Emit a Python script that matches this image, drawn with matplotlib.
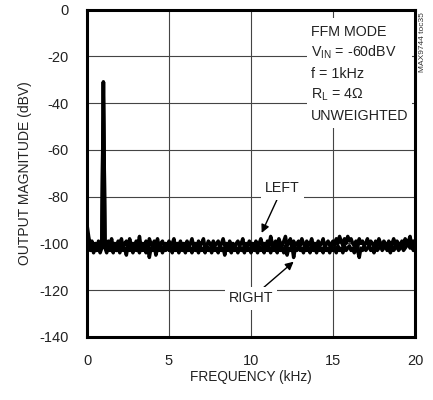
import matplotlib
matplotlib.use("Agg")
import matplotlib.pyplot as plt
import numpy as np

plt.rcParams['font.family'] = ['Liberation Sans', 'DejaVu Sans']
plt.rcParams['mathtext.fontset'] = 'custom'
plt.rcParams['mathtext.rm'] = 'Liberation Sans'

# frequency grid (kHz), 0.1 kHz steps
freq = np.arange(0, 20.001, 0.1)

# output magnitude (dBV), one row per kHz
left_db = [-92, -97, -101, -99, -102, -100, -103, -99, -101, -100,
           -31, -100, -102, -99, -101, -98, -102, -100, -103, -99,
           -101, -98, -102, -100, -99, -102, -98, -101, -100, -102,
           -99, -101, -97, -102, -100, -101, -99, -103, -98, -100,
           -102, -99, -101, -98, -102, -100, -99, -101, -100, -102,
           -99, -101, -100, -98, -102, -100, -101, -99, -102, -100,
           -101, -99, -102, -100, -98, -101, -100, -102, -99, -101,
           -100, -98, -102, -101, -99, -100, -102, -99, -101, -100,
           -99, -102, -100, -98, -101, -100, -102, -99, -101, -100,
           -102, -100, -99, -101, -100, -98, -102, -100, -101, -99,
           -101, -100, -102, -99, -101, -100, -98, -101, -100, -102,
           -99, -101, -97, -100, -102, -99, -101, -98, -100, -101,
           -99, -97, -101, -100, -98, -102, -99, -101, -100, -99,
           -101, -98, -100, -102, -99, -101, -100, -98, -101, -100,
           -102, -99, -101, -100, -98, -102, -100, -99, -101, -100,
           -99, -101, -98, -100, -97, -99, -101, -98, -100, -97,
           -99, -98, -100, -101, -99, -102, -98, -100, -99, -101,
           -100, -98, -101, -99, -100, -102, -99, -101, -98, -100,
           -101, -99, -100, -102, -99, -101, -100, -98, -101, -99,
           -100, -102, -99, -101, -98, -100, -99, -97, -101, -99,
           -99]
right_db = [-95, -99, -103, -101, -104, -102, -103, -101, -104, -102,
            -31, -102, -104, -101, -103, -102, -104, -101, -103, -102,
            -104, -101, -103, -102, -105, -101, -103, -102, -104, -101,
            -103, -102, -104, -101, -103, -102, -104, -101, -106, -102,
            -103, -101, -105, -102, -103, -101, -104, -102, -103, -101,
            -103, -102, -104, -101, -103, -102, -104, -101, -103, -102,
            -104, -101, -103, -102, -104, -101, -103, -102, -104, -101,
            -103, -102, -104, -101, -103, -102, -104, -101, -103, -102,
            -104, -101, -103, -102, -105, -101, -103, -102, -104, -101,
            -103, -102, -104, -101, -103, -102, -104, -101, -103, -102,
            -104, -101, -103, -102, -104, -101, -103, -102, -104, -101,
            -103, -102, -104, -101, -103, -102, -104, -101, -103, -102,
            -104, -101, -105, -102, -103, -101, -106, -102, -103, -101,
            -103, -102, -104, -101, -103, -102, -104, -101, -103, -102,
            -104, -101, -103, -102, -104, -101, -103, -102, -104, -101,
            -103, -102, -104, -101, -103, -102, -104, -101, -103, -102,
            -101, -103, -102, -104, -101, -103, -106, -102, -103, -101,
            -103, -102, -101, -103, -102, -104, -101, -103, -102, -101,
            -103, -102, -101, -103, -102, -104, -101, -103, -102, -101,
            -103, -102, -101, -103, -102, -101, -100, -102, -101, -103,
            -101]

x_ticks = [0, 5, 10, 15, 20]
y_ticks = [0, -20, -40, -60, -80, -100, -120, -140]

info_lines = ["FFM MODE", r"V$_{\rm IN}$ = -60dBV", "f = 1kHz",
              r"R$_{\rm L}$ = 4Ω", "UNWEIGHTED"]

fig = plt.figure(figsize=(4.33, 4.0), dpi=100)
ax = fig.add_axes([87 / 433, 1 - 337 / 400, 328 / 433, 327.5 / 400])

ax.plot(freq, left_db, color='black', lw=2.5, zorder=4)
ax.plot(freq, right_db, color='black', lw=2.5, zorder=4)

ax.set_xlim(0, 20)
ax.set_ylim(-140, 0)
ax.set_xticks(x_ticks)
ax.set_yticks(y_ticks)
ax.set_yticklabels([str(v) for v in y_ticks])
ax.tick_params(length=0, labelsize=10.5, colors='#222222')
ax.tick_params(axis='y', pad=13)
ax.tick_params(axis='x', pad=12)
ax.grid(True, color='#444444', lw=0.8)
ax.set_axisbelow(True)
for s in ax.spines.values():
    s.set_linewidth(2.2)

ax.set_xlabel("FREQUENCY (kHz)", fontsize=9.8, color='#222222', labelpad=2)
ax.set_ylabel("OUTPUT MAGNITUDE (dBV)", fontsize=10, color='#222222', labelpad=5)

# conditions box
ax.add_patch(plt.Rectangle((13.4, -50.5), 6.4, 47, facecolor='white',
                           edgecolor='none', zorder=2))
for i, line in enumerate(info_lines):
    ax.text(13.65, -9.5 - i * 9.0, line, fontsize=10.3, va='center', ha='left',
            color='#222222', zorder=3)

ax.annotate("LEFT", xy=(10.65, -95.5), xytext=(11.9, -76.5), fontsize=10.3,
            ha='center', va='center', color='#222222', zorder=5,
            bbox=dict(facecolor='white', edgecolor='none', pad=3),
            arrowprops=dict(arrowstyle='-|>', color='black', lw=1.0,
                            shrinkA=0, shrinkB=0, mutation_scale=12))
ax.annotate("RIGHT", xy=(12.6, -107.8), xytext=(10.0, -123.5), fontsize=10.3,
            ha='center', va='center', color='#222222', zorder=5,
            bbox=dict(facecolor='white', edgecolor='none', pad=3),
            arrowprops=dict(arrowstyle='-|>', color='black', lw=1.0,
                            shrinkA=0, shrinkB=0, mutation_scale=12))

fig.text(423 / 433, 1 - 42 / 400, "MAX9744 toc35", rotation=90, fontsize=6,
         ha='center', va='center', color='#333333')

fig.savefig("out.png", dpi=100)
